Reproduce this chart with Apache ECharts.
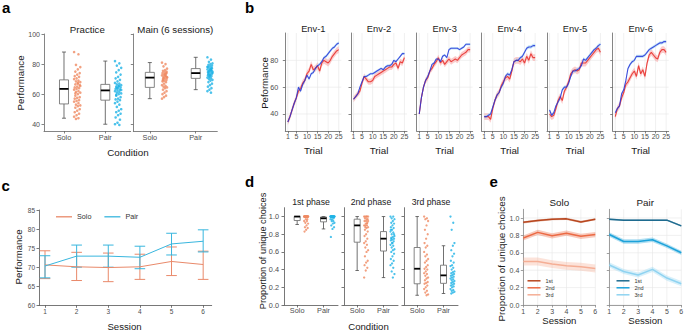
<!DOCTYPE html>
<html><head><meta charset="utf-8">
<script src="https://cdn.jsdelivr.net/npm/echarts@6/dist/echarts.min.js"></script>
<style>html,body{margin:0;padding:0;background:#fff}#c{width:685px;height:331px}</style>
</head><body><div id="c"></div>
<script>
// ================= DATA =================
const conditions = ['Solo', 'Pair'];
// ---- panel a ----
const aTitles = ['Practice', 'Main (6 sessions)'];
const aYTicks = [40, 60, 80, 100];
const aBoxPractice = [[44, 53.5, 63.5, 69.5, 88], [40, 56, 62.5, 66.5, 82]];   // min,Q1,median,Q3,max
const aBoxMain = [[57, 64.5, 71, 74.5, 81], [63, 70.5, 74, 77, 84.5]];
const aDotsPracticeSolo = [88, 86.5, 79.5, 78, 76.5, 75, 74, 73, 72, 71.5, 70.5, 70, 69, 68.5, 68, 67, 66.5, 66, 65, 64.5, 64, 63.5, 63, 62, 61.5, 61, 60, 59, 58, 57.5, 57, 56, 55.5, 55, 54, 53, 52.5, 52, 51, 50, 49, 48, 47, 46, 45, 44, 43.5, 65.5, 67.5, 60.5];
const aDotsPracticePair = [82, 80.5, 79, 77.5, 76, 74.5, 73, 71.5, 70.5, 69.5, 68.5, 67.5, 67, 66.5, 66, 65.5, 65, 64.5, 64, 63.5, 63, 62.5, 62, 61.5, 61, 60.5, 60, 59, 58, 57, 56.5, 56, 55, 54, 53, 51.5, 50, 49, 48, 47, 46, 44.5, 43, 41, 40, 39.5, 64.2, 62.8, 65.3, 59.5];
const aDotsMainSolo = [81, 80, 78.5, 77, 76, 75.5, 75, 74.5, 74, 73.5, 73, 72.5, 72, 71.5, 71, 70.5, 70, 69.5, 69, 68.5, 68, 67, 66, 65.5, 65, 64.5, 64, 63, 62, 61, 60, 59, 58, 57, 72.2, 70.8, 71.3, 73.2, 69.2, 74.2];
const aDotsMainPair = [84.5, 83, 81.5, 80.5, 80, 79.5, 79, 78.5, 78, 77.5, 77, 76.5, 76, 75.5, 75, 74.5, 74, 73.5, 73, 72.5, 72, 71.5, 71, 70.5, 70, 69.5, 69, 68, 67, 66, 65, 64, 63, 62, 61, 75.2, 74.2, 76.2, 73.2, 77.2, 72.7, 74.7, 75.7, 71.7, 78.2, 76.7];

// ---- panel b ----
const envNames = ['Env-1', 'Env-2', 'Env-3', 'Env-4', 'Env-5', 'Env-6'];
const trials = [1,2,3,4,5,6,7,8,9,10,11,12,13,14,15,16,17,18,19,20,21,22,23,24,25];
const trialTicks = [1, 5, 10, 15, 20, 25];
const bYTicks = [40, 60, 80];
const bSoloEnv1 = [34, 38, 43, 48, 52, 57, 59, 63, 65, 70, 72, 77, 73, 74, 76, 72, 78, 80, 79, 78, 80, 83, 85, 87, 88];
const bPairEnv1 = [34, 38, 43, 48, 52, 60, 57, 62, 65, 69, 66, 70, 71, 74, 76, 77, 79, 82, 83, 85, 87, 89, 90, 92, 93];
const bSoloEnv2 = [51, 53, 55, 57, 63, 68, 66, 64, 64, 65, 68, 69, 70, 71, 72, 73, 74, 75, 75, 77, 78, 74, 79, 78, 82];
const bPairEnv2 = [51, 53, 55, 60, 64, 68, 68, 69, 70, 70, 71, 72, 73, 74, 73, 75, 76, 76, 77, 80, 79, 81, 83, 85, 85];
const bSoloEnv3 = [40, 52, 60, 65, 67, 72, 74, 77, 79, 82, 78, 80, 77, 79, 81, 79, 80, 81, 80, 82, 84, 85, 86, 88, 88];
const bPairEnv3 = [40, 52, 60, 65, 68, 72, 77, 78, 81, 81, 79, 83, 84, 82, 88, 89, 89, 89, 89, 88, 89, 90, 92, 92, 92];
const bSoloEnv4 = [38, 38, 38, 36, 44, 50, 54, 56, 61, 64, 67, 68, 66, 72, 79, 80, 80, 79, 81, 78, 83, 80, 85, 82, 82];
const bPairEnv4 = [38, 38, 39, 40, 45, 50, 54, 56, 60, 63, 68, 70, 69, 73, 79, 80, 80, 82, 83, 86, 89, 90, 90, 91, 91];
const bSoloEnv5 = [40, 38, 39, 44, 50, 53, 50, 57, 60, 64, 70, 72, 73, 72, 73, 78, 78, 78, 80, 82, 84, 86, 88, 89, 86];
const bPairEnv5 = [43, 39, 41, 46, 49, 52, 58, 60, 60, 63, 68, 72, 72, 73, 74, 76, 81, 80, 82, 84, 86, 88, 89, 91, 92];
const bSoloEnv6 = [38, 44, 46, 52, 56, 62, 64, 67, 70, 72, 68, 76, 70, 73, 68, 78, 84, 86, 84, 82, 81, 86, 88, 88, 86];
const bPairEnv6 = [41, 44, 46, 55, 58, 65, 74, 77, 79, 80, 83, 83, 83, 83, 84, 86, 88, 89, 90, 91, 92, 93, 93, 94, 94];
const bSoloHalfBand = [2.5, 2.2, 2.2, 2.5, 2.5, 2.5];
const bPairHalfBand = [1.2, 1.0, 1.0, 1.3, 1.3, 1.2];

// ---- panel c ----
const sessions = [1, 2, 3, 4, 5, 6];
const cYTicks = [60, 65, 70, 75, 80, 85];
const cSoloMean = [70.6, 70.1, 69.9, 70.1, 71.5, 70.7];
const cSoloLow  = [67.0, 66.5, 66.2, 66.8, 67.8, 66.8];
const cSoloHigh = [74.3, 73.9, 73.7, 73.4, 75.3, 74.2];
const cPairMean = [70.3, 72.9, 72.9, 72.6, 76.1, 76.8];
const cPairLow  = [67.2, 70.0, 70.0, 69.6, 73.2, 74.0];
const cPairHigh = [73.0, 75.8, 75.8, 75.5, 78.9, 79.8];

// ---- panel d ----
const phases = ['1st phase', '2nd phase', '3rd phase'];
const dYTicks = [0, 0.2, 0.4, 0.6, 0.8, 1.0];
const dBoxSolo = [[0.91, 0.955, 1.0, 1.0, 1.0], [0.39, 0.71, 0.90, 0.97, 1.0], [0.11, 0.24, 0.41, 0.65, 1.0]];
const dBoxPair = [[0.86, 0.94, 0.98, 0.995, 1.0], [0.31, 0.61, 0.75, 0.83, 1.0], [0.13, 0.245, 0.335, 0.45, 0.67]];
const dDotsSolo1 = [1,1,1,1,1,1,1,1,1,1,1,1,1,1,1,1,1,1,1,1,0.97,0.97,0.95,0.95,0.93,0.92,0.9,0.88,0.87,0.85,0.83];
const dDotsPair1 = [1,1,1,1,1,1,1,1,1,1,1,1,1,1,1,1,1,1,1,1,0.98,0.97,0.97,0.95,0.95,0.93,0.92,0.9,0.88,0.86,0.77];
const dDotsSolo2 = [1,1,1,1,1,0.98,0.97,0.95,0.95,0.93,0.92,0.9,0.9,0.9,0.88,0.87,0.85,0.83,0.8,0.78,0.75,0.72,0.7,0.68,0.65,0.62,0.6,0.55,0.5,0.48,0.45,0.42,0.39,0.31,0.92,0.88,0.95,0.97];
const dDotsPair2 = [1,1,0.98,0.97,0.95,0.93,0.92,0.9,0.88,0.87,0.85,0.83,0.82,0.8,0.78,0.77,0.76,0.75,0.74,0.73,0.72,0.7,0.68,0.67,0.65,0.63,0.62,0.6,0.58,0.55,0.52,0.5,0.47,0.45,0.42,0.38,0.35,0.31,0.75,0.8,0.7,0.85];
const dDotsSolo3 = [1,0.98,0.97,0.95,0.9,0.85,0.8,0.75,0.7,0.67,0.65,0.6,0.57,0.55,0.52,0.5,0.48,0.45,0.43,0.41,0.4,0.38,0.36,0.35,0.33,0.31,0.3,0.28,0.26,0.25,0.24,0.22,0.2,0.18,0.16,0.14,0.12,0.11];
const dDotsPair3 = [1,0.93,0.85,0.7,0.67,0.62,0.58,0.55,0.5,0.48,0.45,0.44,0.42,0.4,0.38,0.37,0.36,0.35,0.34,0.33,0.32,0.31,0.3,0.29,0.28,0.27,0.26,0.25,0.24,0.23,0.22,0.21,0.2,0.18,0.17,0.16,0.15,0.14,0.13];

// ---- panel e ----
const eTitles = ['Solo', 'Pair'];
const ePhaseLabels = ['1st', '2nd', '3rd'];
const eSolo1 = [0.95, 0.97, 0.985, 0.99, 0.955, 0.985];
const eSolo2 = [0.77, 0.835, 0.795, 0.825, 0.79, 0.81];
const eSolo3 = [0.50, 0.50, 0.47, 0.45, 0.44, 0.42];
const ePair1 = [0.985, 0.975, 0.975, 0.975, 0.975, 0.91];
const ePair2 = [0.81, 0.73, 0.73, 0.75, 0.68, 0.60];
const ePair3 = [0.46, 0.385, 0.345, 0.41, 0.31, 0.245];
const eSoloHalfBand = [0.012, 0.03, 0.045];
const ePairHalfBand = [0.01, 0.025, 0.03];

// ================= BUILD =================
const FONT = '"Liberation Sans", Arial, Helvetica, sans-serif';
const grid = [], xAxis = [], yAxis = [], series = [], graphic = [], legend = [];

function addCart(g, xa, ya) {
  grid.push(Object.assign({ outerBoundsMode: 'none' }, g));
  const gi = grid.length - 1;
  xAxis.push(Object.assign({ gridIndex: gi }, xa));
  yAxis.push(Object.assign({ gridIndex: gi }, ya));
  return gi;
}
function vAxis(o) {
  const line = o.line || '#555';
  return {
    type: 'value', min: o.min, max: o.max,
    axisLine: { show: true, onZero: false, lineStyle: { color: line, width: 0.8 } },
    axisTick: { show: true, length: o.tickLen == null ? 2.5 : o.tickLen, customValues: o.ticks, lineStyle: { color: line, width: 0.8 } },
    axisLabel: { show: o.labels !== false, customValues: o.ticks, formatter: o.fmt, fontSize: o.fontSize || 7, color: '#4d4d4d', margin: o.margin == null ? 3 : o.margin, fontFamily: FONT, hideOverlap: false },
    splitLine: { show: false }
  };
}
function gridLines(gi, xTicks, yTicks, color) {
  series.push({ type: 'custom', xAxisIndex: gi, yAxisIndex: gi, silent: true, z: 0, clip: false,
    data: xTicks.map(v => [v, yTicks[0]]),
    renderItem(params, api) {
      const cs = params.coordSys; const px = api.coord([api.value(0), api.value(1)])[0];
      return { type: 'line', shape: { x1: px, y1: cs.y, x2: px, y2: cs.y + cs.height }, style: { stroke: color, lineWidth: 0.6 } };
    } });
  series.push({ type: 'custom', xAxisIndex: gi, yAxisIndex: gi, silent: true, z: 0, clip: false,
    data: yTicks.map(v => [xTicks[0], v]),
    renderItem(params, api) {
      const cs = params.coordSys; const py = api.coord([api.value(0), api.value(1)])[1];
      return { type: 'line', shape: { x1: cs.x, y1: py, x2: cs.x + cs.width, y2: py }, style: { stroke: color, lineWidth: 0.6 } };
    } });
}
function jit(i) { return (((i * 7) % 11) - 5) / 5; }
function boxSeries(gi, stats, boxW, capW) {
  return {
    type: 'custom', xAxisIndex: gi, yAxisIndex: gi, silent: true, z: 2,
    data: stats.map((s, i) => [i + 1].concat(s)),
    renderItem(params, api) {
      const x = api.value(0);
      const p = k => api.coord([x, api.value(k)]);
      const lo = p(1), q1 = p(2), md = p(3), q3 = p(4), hi = p(5);
      const cx = lo[0];
      const ws = { stroke: '#4d4d4d', lineWidth: 0.8 };
      return { type: 'group', children: [
        { type: 'line', shape: { x1: cx, y1: lo[1], x2: cx, y2: q1[1] }, style: ws },
        { type: 'line', shape: { x1: cx, y1: q3[1], x2: cx, y2: hi[1] }, style: ws },
        { type: 'line', shape: { x1: cx - capW / 2, y1: lo[1], x2: cx + capW / 2, y2: lo[1] }, style: ws },
        { type: 'line', shape: { x1: cx - capW / 2, y1: hi[1], x2: cx + capW / 2, y2: hi[1] }, style: ws },
        { type: 'rect', shape: { x: cx - boxW / 2, y: q3[1], width: boxW, height: Math.max(q1[1] - q3[1], 0.5) }, style: { fill: '#fff', stroke: '#666', lineWidth: 0.8 } },
        { type: 'line', shape: { x1: cx - boxW / 2, y1: md[1], x2: cx + boxW / 2, y2: md[1] }, style: { stroke: '#000', lineWidth: 1.8 } }
      ] };
    }
  };
}
function dotSeries(gi, vals, xBase, jw, color, size) {
  return { type: 'scatter', xAxisIndex: gi, yAxisIndex: gi, silent: true, z: 3, symbolSize: size,
    itemStyle: { color: color, opacity: 0.8 },
    data: vals.map((v, i) => [xBase + jit(i) * jw, v]) };
}
function bandSeries(gi, xs, mean, half, color, opacity) {
  series.push({ type: 'custom', xAxisIndex: gi, yAxisIndex: gi, silent: true, z: 1,
    data: xs.map((x, i) => [x, mean[i] - half, mean[i] + half]),
    renderItem(params, api) {
      if (params.dataIndexInside !== 0) return null;
      const n = params.dataInsideLength, up = [], dn = [];
      for (let i = 0; i < n; i++) {
        const x = api.value(0, i);
        up.push(api.coord([x, api.value(2, i)]));
        dn.push(api.coord([x, api.value(1, i)]));
      }
      return { type: 'polygon', shape: { points: up.concat(dn.reverse()) }, style: { fill: color, opacity: opacity } };
    } });
}
function lineSeries(gi, xs, ys, color, width, name, opacity) {
  series.push({ type: 'line', name: name, xAxisIndex: gi, yAxisIndex: gi, symbol: 'none', silent: true, z: 4,
    lineStyle: { color: color, width: width, opacity: opacity == null ? 1 : opacity }, itemStyle: { color: color },
    data: xs.map((x, i) => [x, ys[i]]) });
}
function txt(text, x, y, size, o) {
  o = o || {};
  const st = { text: text, fill: o.color || '#1a1a1a', font: (o.bold ? 'bold ' : '') + size + 'px ' + FONT,
    align: o.align || 'center', verticalAlign: 'middle', textAlign: o.align || 'center', textVerticalAlign: 'middle' };
  graphic.push({ type: 'text', x: x, y: y, rotation: o.rot || 0, silent: true, style: st });
}

// ---------- panel a ----------
const ORANGE = '#EF8A62', BLUE = '#1FB3E6';
const aLeft = [44, 133.3], aW = [86.7, 84], aXmin = [0.516, 0.64], aXmax = [2.615, 2.47];
const aBoxes = [aBoxPractice, aBoxMain];
const aDots = [[aDotsPracticeSolo, aDotsPracticePair], [aDotsMainSolo, aDotsMainPair]];
for (let p = 0; p < 2; p++) {
  const gi = addCart({ left: aLeft[p], top: 34, width: aW[p], height: 97 },
    vAxis({ min: aXmin[p], max: aXmax[p], ticks: [1, 2], fmt: v => conditions[Math.round(v) - 1], fontSize: 7.3, margin: 3, line: '#666' }),
    vAxis({ min: 35.5, max: 100, ticks: aYTicks, labels: p === 0, fontSize: 7, margin: 4, line: '#666' }));
  series.push(boxSeries(gi, aBoxes[p], 9, 4));
  series.push(dotSeries(gi, aDots[p][0], 1.32, p === 0 ? 0.075 : 0.055, ORANGE, 2.6));
  series.push(dotSeries(gi, aDots[p][1], 2.31, p === 0 ? 0.075 : 0.055, BLUE, 2.6));
  txt(aTitles[p], aLeft[p] + aW[p] / 2, 29, 9.7);
}
txt('a', 2, 7.5, 15, { bold: true, align: 'left', color: '#000' });
txt('Performance', 20.5, 83, 9.6, { rot: Math.PI / 2 });
txt('Condition', 128, 152.5, 9.8);

// ---------- panel b ----------
const bLeft = [285.3, 351, 416.7, 481.7, 547, 612.7];
const bSolo = [bSoloEnv1, bSoloEnv2, bSoloEnv3, bSoloEnv4, bSoloEnv5, bSoloEnv6];
const bPair = [bPairEnv1, bPairEnv2, bPairEnv3, bPairEnv4, bPairEnv5, bPairEnv6];
for (let e = 0; e < 6; e++) {
  const gi = addCart({ left: bLeft[e], top: 33, width: 56, height: 98 },
    vAxis({ min: -0.2, max: 26.2, ticks: trialTicks, fontSize: 7, margin: 2, line: '#666' }),
    vAxis({ min: 27.3, max: 100.4, ticks: bYTicks, labels: e === 0, fontSize: 7.2, margin: 7, line: '#666' }));
  gridLines(gi, trialTicks, bYTicks, '#e6e6e6');
  bandSeries(gi, trials, bSolo[e], bSoloHalfBand[e], '#F7A3A3', 0.55);
  bandSeries(gi, trials, bPair[e], bPairHalfBand[e], '#9ED6F5', 0.6);
  lineSeries(gi, trials, bSolo[e], '#E8322D', 1.1, null, 0.9);
  lineSeries(gi, trials, bPair[e], '#2634D8', 1.1, null, 0.85);
  txt(envNames[e], bLeft[e] + 28, 28.5, 9.3);
  txt('Trial', bLeft[e] + 28, 150, 9.8);
}
txt('b', 245, 7.5, 15, { bold: true, align: 'left', color: '#000' });
txt('Peformance', 264.3, 83, 9.6, { rot: Math.PI / 2 });

// ---------- panel c ----------
const C_SOLO = '#E9896A', C_PAIR = '#38B6DE';
{
  const gi = addCart({ left: 39, top: 210, width: 172.7, height: 95.3 },
    vAxis({ min: 0.81, max: 6.27, ticks: sessions, fontSize: 6.5, margin: 3, line: '#555' }),
    vAxis({ min: 60, max: 85, ticks: cYTicks, fontSize: 6.5, margin: 4, line: '#555' }));
  const errSeries = (low, high, color, name) => ({
    type: 'custom', name: name, xAxisIndex: gi, yAxisIndex: gi, silent: true, z: 3,
    data: sessions.map((s, i) => [s, low[i], high[i]]),
    renderItem(params, api) {
      const a = api.coord([api.value(0), api.value(1)]);
      const b = api.coord([api.value(0), api.value(2)]);
      const w = 5.3, st = { stroke: color, lineWidth: 1 };
      return { type: 'group', children: [
        { type: 'line', shape: { x1: a[0], y1: a[1], x2: b[0], y2: b[1] }, style: st },
        { type: 'line', shape: { x1: a[0] - w, y1: a[1], x2: a[0] + w, y2: a[1] }, style: st },
        { type: 'line', shape: { x1: b[0] - w, y1: b[1], x2: b[0] + w, y2: b[1] }, style: st }
      ] };
    }
  });
  series.push(errSeries(cSoloLow, cSoloHigh, C_SOLO, 'cSoloErr'));
  series.push(errSeries(cPairLow, cPairHigh, C_PAIR, 'cPairErr'));
  lineSeries(gi, sessions, cSoloMean, C_SOLO, 1, 'Solo');
  lineSeries(gi, sessions, cPairMean, C_PAIR, 1, 'Pair');
  legend.push({ left: 56, top: 213.3, itemWidth: 16, itemHeight: 1.3, itemGap: 13, icon: 'rect', data: ['Solo', 'Pair'],
    selectedMode: false, textStyle: { fontSize: 7.2, color: '#333', fontFamily: FONT }, padding: 0 });
}
txt('c', 1.5, 185, 15, { bold: true, align: 'left', color: '#000' });
txt('Performance', 18.3, 257, 9.6, { rot: Math.PI / 2 });
txt('Session', 124.5, 326.5, 9.6);

// ---------- panel d ----------
const dLeft = [284, 344, 404];
const dDots = [[dDotsSolo1, dDotsPair1], [dDotsSolo2, dDotsPair2], [dDotsSolo3, dDotsPair3]];
for (let p = 0; p < 3; p++) {
  const gi = addCart({ left: dLeft[p], top: 207.7, width: 54, height: 97.3 },
    vAxis({ min: 0.5, max: 2.55, ticks: [1, 2], fmt: v => conditions[Math.round(v) - 1], fontSize: 7.3, margin: 2, line: '#555' }),
    vAxis({ min: 0, max: 1.1, ticks: dYTicks, labels: p === 0, fmt: v => v.toFixed(1), fontSize: 7.3, margin: 5, line: '#555' }));
  series.push(boxSeries(gi, [dBoxSolo[p], dBoxPair[p]], 6, 3.5));
  series.push(dotSeries(gi, dDots[p][0], 1.34, 0.075, ORANGE, 2.3));
  series.push(dotSeries(gi, dDots[p][1], 2.34, 0.075, BLUE, 2.3));
  txt(phases[p], dLeft[p] + 27, 201.7, 8.7);
}
txt('d', 245, 181.5, 15, { bold: true, align: 'left', color: '#000' });
txt('Proportion of unique choices', 262.7, 251, 9.2, { rot: Math.PI / 2 });
txt('Condition', 368.5, 326, 9.6);

// ---------- panel e ----------
const eLeft = [523.3, 609.3];
const eData = [[eSolo1, eSolo2, eSolo3], [ePair1, ePair2, ePair3]];
const eBands = [eSoloHalfBand, ePairHalfBand];
const eColors = [['#B8461E', '#EC6A44', '#F5AE95'], ['#1E6B8F', '#1CA2DA', '#8FD3F1']];
const eIds = [['eS1', 'eS2', 'eS3'], ['eP1', 'eP2', 'eP3']];
for (let p = 0; p < 2; p++) {
  const gi = addCart({ left: eLeft[p], top: 209.3, width: 72, height: 95.7 },
    vAxis({ min: 1, max: 6, ticks: sessions, fontSize: 7, margin: 3, line: '#888' }),
    vAxis({ min: 0, max: 1.1, ticks: dYTicks, labels: p === 0, fmt: v => v.toFixed(1), fontSize: 7, margin: 4, line: '#888' }));
  gridLines(gi, sessions, dYTicks, '#e6e6e6');
  for (let k = 0; k < 3; k++) bandSeries(gi, sessions, eData[p][k], eBands[p][k], eColors[p][k], 0.35);
  for (let k = 0; k < 3; k++) lineSeries(gi, sessions, eData[p][k], eColors[p][k], 1.5, eIds[p][k]);
  legend.push({ left: p === 0 ? 527.5 : 616.5, top: 277.8, orient: 'vertical', itemWidth: 13, itemHeight: 1.5, itemGap: 1, icon: 'rect',
    data: eIds[p], selectedMode: false, padding: 0,
    formatter: n => ePhaseLabels[eIds[p].indexOf(n)],
    textStyle: { fontSize: 5.5, color: '#333', fontFamily: FONT } });
  txt(eTitles[p], eLeft[p] + 36, 202.7, 9.8);
  txt('Session', eLeft[p] + 36, 320.7, 9.6);
}
txt('e', 489.5, 181.5, 15, { bold: true, align: 'left', color: '#000' });
txt('Proportion of unique choices', 501.7, 259, 9.9, { rot: Math.PI / 2 });

const chart = echarts.init(document.getElementById('c'), null, { renderer: 'svg', width: 685, height: 331 });
chart.setOption({ animation: false, backgroundColor: '#fff', tooltip: { show: false },
  grid: grid, xAxis: xAxis, yAxis: yAxis, series: series, graphic: graphic, legend: legend });
</script></body></html>
